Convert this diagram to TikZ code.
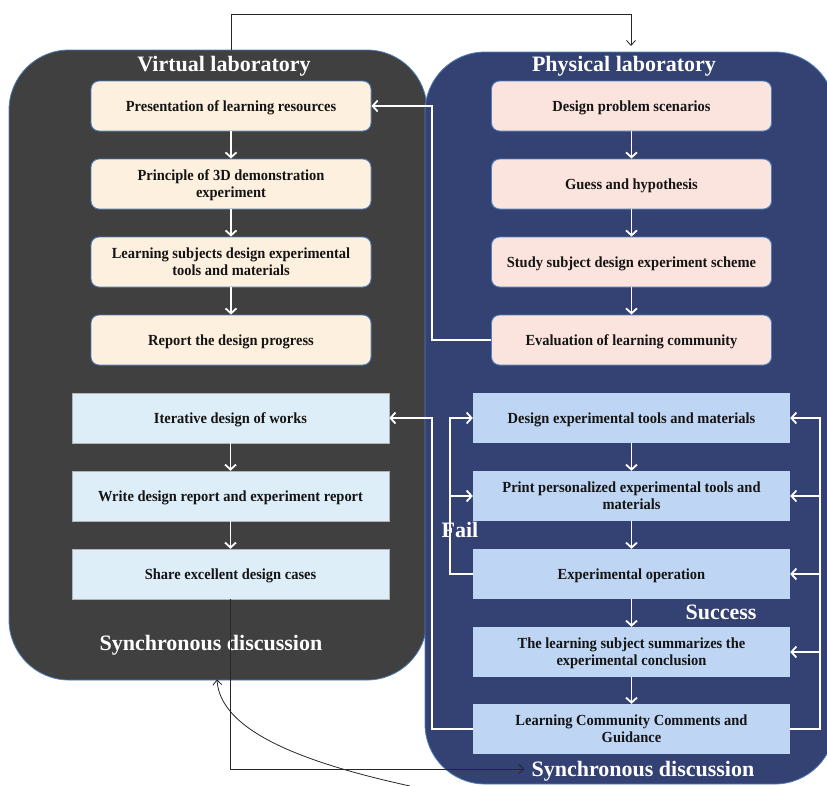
\documentclass[tikz,border=0pt]{standalone}
\usepackage{fontspec}
\setmainfont{Liberation Serif}
\newfontfamily\stepfont{Liberation Serif}[FakeStretch=0.94]
\usetikzlibrary{arrows.meta,calc}

\definecolor{labgray}{RGB}{64,64,64}
\definecolor{labnavy}{RGB}{51,65,115}
\definecolor{edgeblue}{RGB}{79,129,189}
\definecolor{creamfill}{RGB}{254,240,222}
\definecolor{pinkfill}{RGB}{252,228,222}
\definecolor{paleblue}{RGB}{221,238,248}
\definecolor{midblue}{RGB}{190,213,243}
\definecolor{inktext}{RGB}{20,20,20}

\tikzset{
  lab/.style={rectangle, rounded corners=60pt, draw=edgeblue, line width=0.8pt},
  labtitle/.style={text=white, font=\fontsize{22}{24}\selectfont\bfseries, inner sep=1pt,
    text depth=0.5pt},
  stepbase/.style={minimum height=50pt, align=center, text=inktext,
    font=\stepfont\fontsize{15.4}{17.5}\selectfont\bfseries, inner sep=2pt,
    text depth=0.5pt},
  roundbox/.style={stepbase, rectangle, rounded corners=8pt, draw=edgeblue,
    line width=0.9pt, minimum width=280pt},
  flatbox/.style={stepbase, rectangle, minimum width=317pt},
  wconn/.style={draw=white, line width=1.8pt,
    -{Straight Barb[length=5pt,width=11pt]}},
  bconn/.style={draw=black!85, line width=0.8pt,
    -{Straight Barb[length=5pt,width=9pt]}},
}

\begin{document}
\begin{tikzpicture}[x=1pt,y=-1pt]
\useasboundingbox (0,0) rectangle (827,785);

% the two laboratories
\node[lab, fill=labgray, minimum width=418pt, minimum height=630pt] (vlab) at (218,365) {};
\node[lab, fill=labnavy, minimum width=410pt, minimum height=732pt] (plab) at (630,418) {};

\node[labtitle] (vtitle) at (224,64) {Virtual laboratory};
\node[labtitle] (ptitle) at (624,64) {Physical laboratory};

% virtual laboratory steps
\node[roundbox, fill=creamfill] (lpres) at (231,106) {Presentation of learning resources};
\node[roundbox, fill=creamfill] (lprin) at (231,184) {Principle of 3D demonstration\\experiment};
\node[roundbox, fill=creamfill] (lsubj) at (231,262) {Learning subjects design experimental\\tools and materials};
\node[roundbox, fill=creamfill] (lrep)  at (231,340) {Report the design progress};

\node[flatbox, fill=paleblue, draw=black!30, line width=0.5pt] (liter)  at (230.5,418) {Iterative design of works};
\node[flatbox, fill=paleblue, draw=black!30, line width=0.5pt] (lwrite) at (230.5,496) {Write design report and experiment report};
\node[flatbox, fill=paleblue, draw=black!30, line width=0.5pt] (lshare) at (230.5,574) {Share excellent design cases};

\node[labtitle] (lsync) at (211,643) {Synchronous discussion};

% physical laboratory steps
\node[roundbox, fill=pinkfill] (rscen)  at (631.5,106) {Design problem scenarios};
\node[roundbox, fill=pinkfill] (rguess) at (631.5,184) {Guess and hypothesis};
\node[roundbox, fill=pinkfill] (rstudy) at (631.5,262) {Study subject design experiment scheme};
\node[roundbox, fill=pinkfill] (revl)   at (631.5,340) {Evaluation of learning community};

\node[flatbox, fill=midblue] (rdes)   at (631.5,418) {Design experimental tools and materials};
\node[flatbox, fill=midblue] (rprint) at (631.5,496) {Print personalized experimental tools and\\materials};
\node[flatbox, fill=midblue] (rexp)   at (631.5,574) {Experimental operation};
\node[flatbox, fill=midblue] (rsum)   at (631.5,652) {The learning subject summarizes the\\experimental conclusion};
\node[flatbox, fill=midblue] (rcomm)  at (631.5,729) {Learning Community Comments and\\Guidance};

\node[labtitle] (fail)    at (460,530) {Fail};
\node[labtitle] (success) at (721,612) {Success};
\node[labtitle] (psync)   at (643,769) {Synchronous discussion};

% flow inside each column
\draw[wconn] (lpres) -- (lprin);
\draw[wconn] (lprin) -- (lsubj);
\draw[wconn] (lsubj) -- (lrep);
\draw[wconn] (liter) -- (lwrite);
\draw[wconn] (lwrite) -- (lshare);

\draw[wconn] (rscen) -- (rguess);
\draw[wconn] (rguess) -- (rstudy);
\draw[wconn] (rstudy) -- (revl);
\draw[wconn] (rdes) -- (rprint);
\draw[wconn] (rprint) -- (rexp);
\draw[wconn] (rexp) -- (rsum);
\draw[wconn] (rsum) -- (rcomm);

% feedback from the physical side to the virtual side
\draw[wconn] (revl.west) -- ++(-59,0) |- (lpres.east);
\draw[wconn] (rcomm.west) -- ++(-41,0) |- (liter.east);

% fail loop
\draw[wconn] (rexp.west) -- ++(-23,0) coordinate (failx) |- (rdes.west);
\draw[wconn] (failx |- rprint.west) -- (rprint.west);

% success loop
\draw[wconn] (rcomm.east) -- ++(30,0) coordinate (succx) |- (rdes.east);
\draw[wconn] (succx |- rprint.east) -- (rprint.east);
\draw[wconn] (succx |- rexp.east) -- (rexp.east);
\draw[wconn] (succx |- rsum.east) -- (rsum.east);

% links between the laboratories
\coordinate (topy) at (0,14);
\coordinate (toparrow) at (631,46);
\draw[bconn] (lpres.north |- vlab.north) -- (lpres.north |- topy) -| (toparrow);
\draw[bconn, shorten >=6pt] (lshare.south) |- (psync.west);
\coordinate (curvestart) at (410,786);
\draw[bconn] (curvestart) .. controls (300,762) and (220,730) .. ([xshift=-1pt,yshift=1pt]vlab.south);
\end{tikzpicture}
\end{document}
